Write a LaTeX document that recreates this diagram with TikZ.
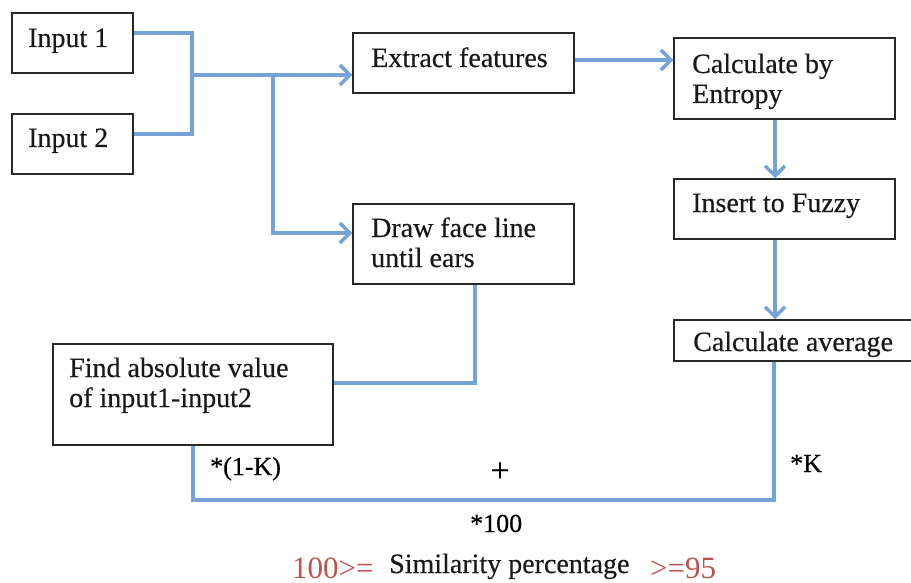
\documentclass[tikz,border=0pt]{standalone}
\usepackage{fontspec}
\setmainfont[FakeBold=0.4]{Liberation Serif}
\newfontfamily\plainserif{Liberation Serif}
\usetikzlibrary{arrows.meta}
\definecolor{flow}{RGB}{117,163,216}
\definecolor{redtxt}{RGB}{192,80,77}
\definecolor{boxline}{RGB}{40,40,40}
\begin{document}
\begin{tikzpicture}[x=1pt,y=-1pt,
  box/.style={draw=boxline, line width=1.5pt, fill=white, inner sep=0pt, anchor=center},
  txt/.style={anchor=base west, inner sep=0pt, text=black!90, font=\fontsize{28}{30}\selectfont},
  lbl/.style={anchor=base west, inner sep=0pt, font=\fontsize{26}{30}\selectfont},
  redlbl/.style={anchor=base west, inner sep=0pt, text=redtxt, font=\plainserif\fontsize{31}{34}\selectfont},
  flowline/.style={draw=flow, line width=3.5pt},
  arr/.style={flowline, -{Straight Barb[length=10pt,width=20pt]}}
]
\useasboundingbox (0,0) rectangle (911,583);
\clip (0,0) rectangle (911,583);

% boxes
\node[box, minimum width=121pt, minimum height=60pt] (in1) at (72.5,43) {};
\node[box, minimum width=121pt, minimum height=60pt] (in2) at (72.5,144) {};
\node[box, minimum width=221pt, minimum height=60pt] (ext) at (463.5,63) {};
\node[box, minimum width=221pt, minimum height=81pt] (ent) at (784.5,78.5) {};
\node[box, minimum width=221pt, minimum height=60pt] (fuz) at (784.5,209) {};
\node[box, minimum width=241pt, minimum height=41pt] (avg) at (794.5,340.5) {};
\node[box, minimum width=221pt, minimum height=80pt] (face) at (463.5,244) {};
\node[box, minimum width=280pt, minimum height=101pt] (abs) at (193,394.5) {};

% box texts
\node[txt] (in1t) at (28,47) {Input 1};
\node[txt] (in2t) at (28,147) {Input 2};
\node[txt] (extt) at (371,67) {Extract features};
\node[txt] (entt) at (692,73) {\begin{tabular}[t]{@{}l@{}}Calculate by\\Entropy\end{tabular}};
\node[txt] (fuzt) at (692,212) {Insert to Fuzzy};
\node[txt] (avgt) at (693,351) {Calculate average};
\node[txt] (facet) at (371,237) {\begin{tabular}[t]{@{}l@{}}Draw face line\\until ears\end{tabular}};
\node[txt] (abst) at (69,377) {\begin{tabular}[t]{@{}l@{}}Find absolute value\\of input1-input2\end{tabular}};

% connectors
\coordinate (j1) at (192,75);
\coordinate (j2) at (273,75);
\coordinate (b) at (774,500);
\draw[flowline] ([yshift=10pt]in1.east) -| (j1);
\draw[flowline] ([yshift=10pt]in2.east) -| (j1);
\draw[arr] (j1) -- (j1 -| ext.west);
\draw[arr] (j2) |- ([yshift=11pt]face.west);
\draw[arr] ([yshift=3pt]ext.east) -- ([yshift=3pt]ext.east -| ent.west);
\draw[arr] ([xshift=-9.5pt]ent.south) -- ([xshift=-9.5pt]ent.south |- fuz.north);
\draw[arr] ([xshift=-9.5pt]fuz.south) -- ([xshift=-9.5pt]fuz.south |- avg.north);
\draw[flowline] ([xshift=11.5pt]face.south) |- ([yshift=11.5pt]abs.east);
\draw[flowline] (abs.south) |- (b) -- (b |- avg.south);

% labels
\node[lbl] (k1) at (210,475) {*(1-K)};
\node[lbl] (k2) at (790,472) {*K};
\node[lbl, anchor=center, font=\fontsize{34}{34}\selectfont] (plus) at (500,472) {+};
\node[lbl] (h) at (470,532) {*100};
\node[redlbl] (r1) at (292,578) {100>=};
\node[txt] (sim) at (389,573) {Similarity percentage};
\node[redlbl] (r2) at (650,578) {>=95};
\end{tikzpicture}
\end{document}
